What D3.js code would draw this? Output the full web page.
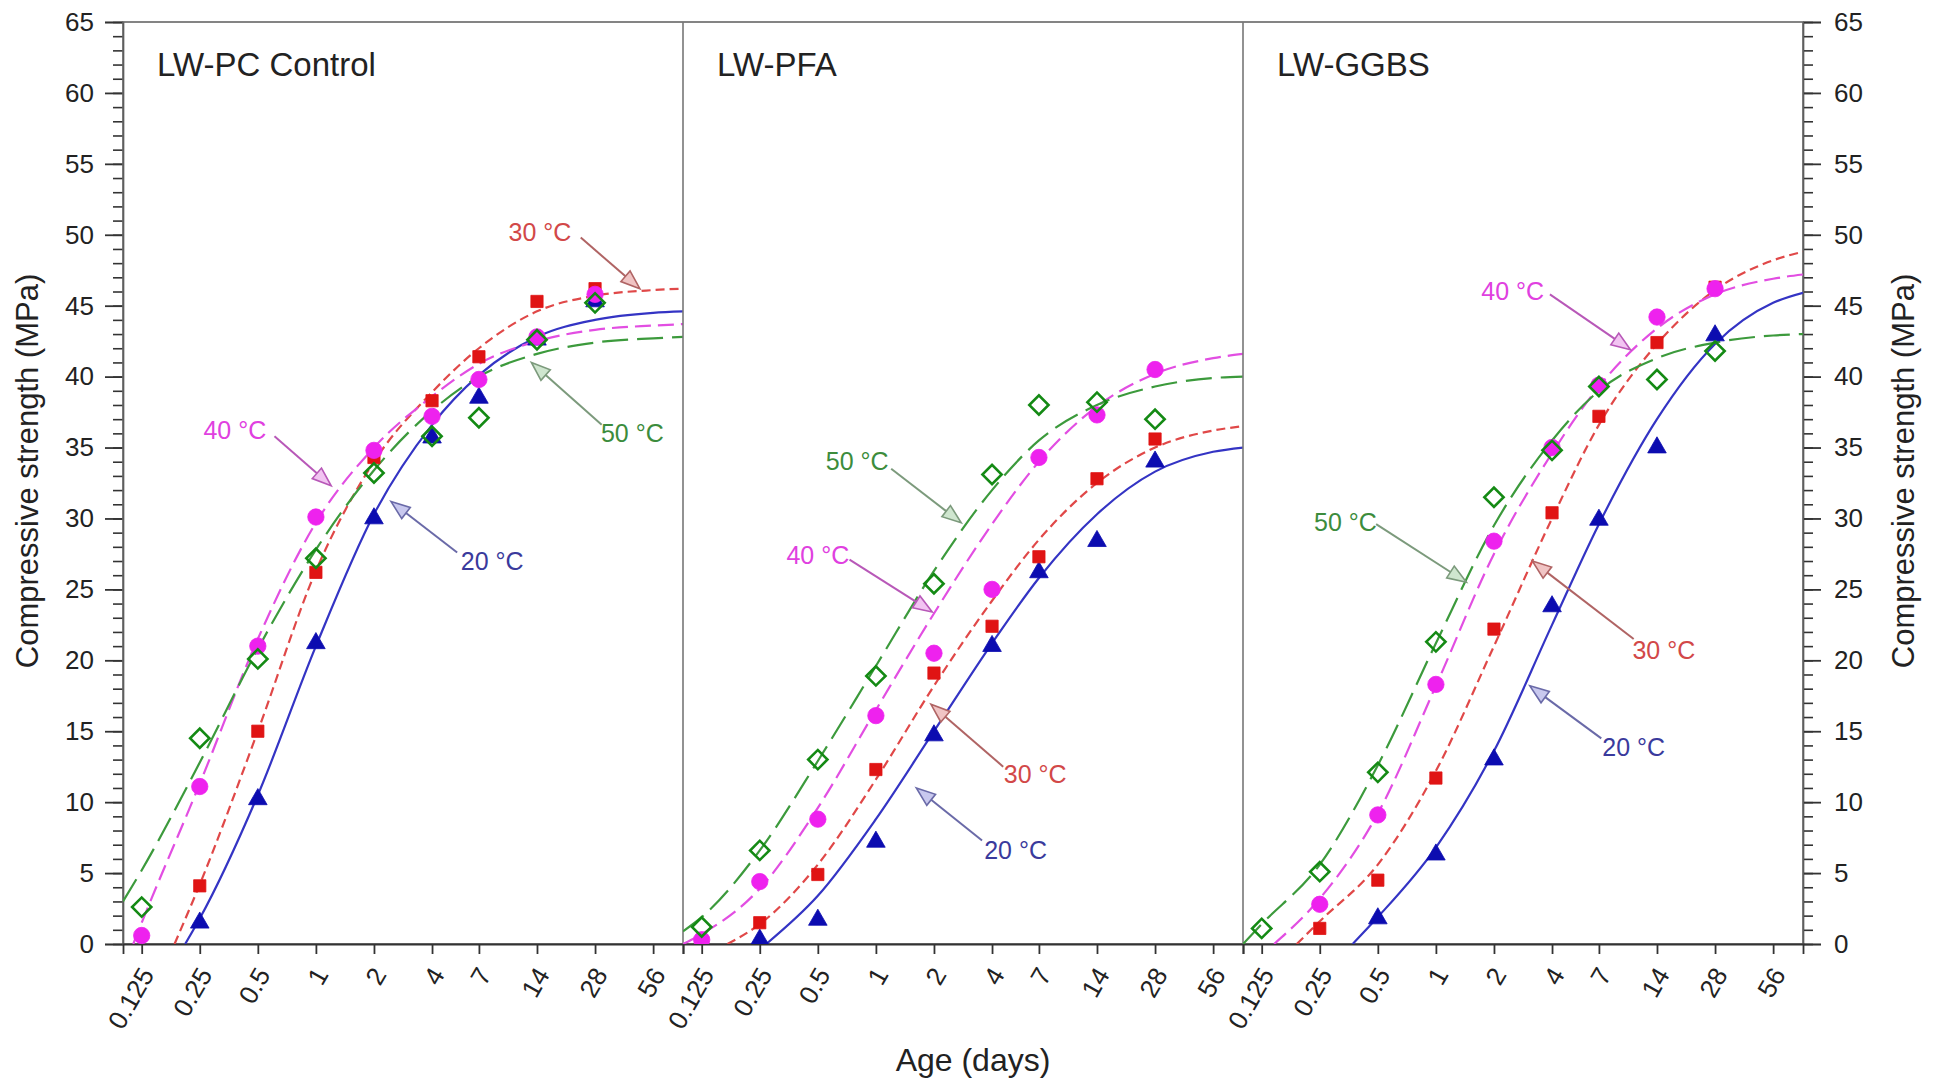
<!DOCTYPE html>
<html>
<head>
<meta charset="utf-8">
<script src="https://cdn.jsdelivr.net/npm/d3@7"></script>
<style>
  body { margin: 0; background: #fff; }
  svg { display: block; font-family: "Liberation Sans", Arial, sans-serif; }
</style>
</head>
<body>
<svg id="chart" width="1944" height="1086"></svg>
<script>
const panels = ['LW-PC Control', 'LW-PFA', 'LW-GGBS'];
const temps = [20, 30, 40, 50];
const ages = [0.125, 0.25, 0.5, 1, 2, 4, 7, 14, 28];
const tickAges = [0.125, 0.25, 0.5, 1, 2, 4, 7, 14, 28, 56];
const yTicks = d3.range(0, 66, 5);

// measured compressive strength (MPa) at each age, null = no point
const pc20 = [null, 1.5, 10.2, 21.2, 30.0, 35.7, 38.5, 42.6, 45.3];
const pc30 = [null, 4.1, 15.0, 26.2, 34.3, 38.3, 41.4, 45.3, 46.2];
const pc40 = [0.6, 11.1, 21.0, 30.1, 34.8, 37.2, 39.8, 42.8, 45.8];
const pc50 = [2.6, 14.5, 20.1, 27.2, 33.2, 35.8, 37.1, 42.6, 45.2];

const pfa20 = [null, 0.3, 1.7, 7.2, 14.7, 21.0, 26.2, 28.4, 34.0];
const pfa30 = [null, 1.5, 4.9, 12.3, 19.1, 22.4, 27.3, 32.8, 35.6];
const pfa40 = [0.3, 4.4, 8.8, 16.1, 20.5, 25.0, 34.3, 37.3, 40.5];
const pfa50 = [1.2, 6.6, 13.0, 18.9, 25.4, 33.1, 38.0, 38.2, 37.0];

const gg20 = [null, null, 1.8, 6.3, 13.0, 23.8, 29.9, 35.0, 42.9];
const gg30 = [null, 1.1, 4.5, 11.7, 22.2, 30.4, 37.2, 42.4, 46.3];
const gg40 = [null, 2.8, 9.1, 18.3, 28.4, 35.0, 39.4, 44.2, 46.2];
const gg50 = [1.1, 5.1, 12.1, 21.3, 31.5, 34.8, 39.3, 39.8, 41.8];

// fitted curves: [age, MPa]
const fitPc20 = [[0.21, 0], [0.25, 1.8], [0.5, 10.5], [1, 21], [2, 30.3], [4, 36.6], [7, 40.1], [14, 42.8], [28, 44], [56, 44.5], [80, 44.6]];
const fitPc30 = [[0.185, 0], [0.25, 4.2], [0.5, 15], [1, 26.3], [2, 34], [4, 38.9], [7, 42], [14, 44.6], [28, 45.7], [56, 46.1], [80, 46.2]];
const fitPc40 = [[0.113, 0], [0.125, 1.5], [0.25, 11.3], [0.5, 21.5], [1, 29.7], [2, 35], [4, 38.6], [7, 40.9], [14, 42.5], [28, 43.3], [56, 43.6], [80, 43.7]];
const fitPc50 = [[0.1, 3.0], [0.125, 5.2], [0.25, 12.8], [0.5, 20.8], [1, 27.8], [2, 33.4], [4, 37.6], [7, 40], [14, 41.6], [28, 42.4], [56, 42.7], [80, 42.8]];

const fitPfa20 = [[0.27, 0], [0.5, 3.4], [1, 8.8], [2, 15], [4, 21.2], [7, 25.8], [14, 30.3], [28, 33.3], [56, 34.7], [80, 35]];
const fitPfa30 = [[0.17, 0], [0.25, 1.4], [0.5, 5.6], [1, 11.6], [2, 18.2], [4, 24.2], [7, 28.5], [14, 32.5], [28, 35], [56, 36.2], [80, 36.5]];
const fitPfa40 = [[0.1, 0], [0.125, 0.7], [0.25, 3.9], [0.5, 9.6], [1, 16.5], [2, 23.3], [4, 29.6], [7, 34], [14, 37.9], [28, 40.2], [56, 41.3], [80, 41.6]];
const fitPfa50 = [[0.1, 0.9], [0.125, 1.9], [0.25, 6.6], [0.5, 12.9], [1, 19.6], [2, 26.3], [4, 32], [7, 35.5], [14, 38], [28, 39.3], [56, 39.9], [80, 40]];

const fitGg20 = [[0.37, 0], [0.5, 1.9], [1, 6.8], [2, 13.6], [4, 22.5], [7, 29.6], [14, 37], [28, 42.3], [56, 45.2], [80, 45.9]];
const fitGg30 = [[0.19, 0], [0.25, 1.6], [0.5, 5.6], [1, 12.2], [2, 21], [4, 30], [7, 36.6], [14, 42.3], [28, 46.1], [56, 48.2], [80, 48.8]];
const fitGg40 = [[0.145, 0], [0.25, 3.2], [0.5, 9.2], [1, 18.2], [2, 27.5], [4, 34.6], [7, 39.3], [14, 43.4], [28, 45.8], [56, 46.9], [80, 47.2]];
const fitGg50 = [[0.1, 0], [0.125, 1.4], [0.25, 5.6], [0.5, 12.6], [1, 21.2], [2, 29.5], [4, 35.5], [7, 39], [14, 41.3], [28, 42.4], [56, 42.9], [80, 43]];

// temperature callouts: [temp, text age, text MPa, arrow start age, start MPa, tip age, tip MPa]
const pcLabels = [
  [30, 14.5, 50.2, 23.6, 49.8, 47.8, 46.2],
  [40, 0.38, 36.2, 0.61, 35.8, 1.2, 32.3],
  [50, 43.7, 36.0, 30.3, 36.6, 13.1, 41.0],
  [20, 8.2, 27.0, 5.4, 27.6, 2.45, 31.2]
];
const pfaLabels = [
  [50, 0.80, 34.0, 1.2, 33.5, 2.77, 29.7],
  [40, 0.50, 27.4, 0.73, 27.1, 1.96, 23.4],
  [30, 6.7, 12.0, 4.57, 12.5, 1.93, 16.9],
  [20, 5.3, 6.6, 3.55, 7.3, 1.62, 11.0]
];
const ggLabels = [
  [40, 2.5, 46.0, 3.9, 45.8, 10.2, 41.9],
  [50, 0.34, 29.7, 0.49, 29.6, 1.44, 25.5],
  [30, 15.2, 20.7, 10.6, 21.5, 3.16, 27.0],
  [20, 10.6, 13.9, 7.2, 14.5, 3.07, 18.2]
];

const measured = [[pc20, pc30, pc40, pc50], [pfa20, pfa30, pfa40, pfa50], [gg20, gg30, gg40, gg50]];
const fits = [[fitPc20, fitPc30, fitPc40, fitPc50], [fitPfa20, fitPfa30, fitPfa40, fitPfa50], [fitGg20, fitGg30, fitGg40, fitGg50]];
const callouts = [pcLabels, pfaLabels, ggLabels];

const style = {
  20: { line: '#3434c4', dash: null, mark: '#0c0cb0', symbol: d3.symbolTriangle, size: 150, text: '#3a3a9c', arrow: '#6a6aa8', head: '#c8c8ee' },
  30: { line: '#e04848', dash: '9,5', mark: '#e01414', symbol: d3.symbolSquare, size: 150, text: '#d24848', arrow: '#b06464', head: '#f0c4c4' },
  40: { line: '#e24ee2', dash: '16,7', mark: '#ee22ee', symbol: d3.symbolCircle, size: 210, text: '#e040e0', arrow: '#b858b8', head: '#f2c4f2' },
  50: { line: '#3c9a3c', dash: '26,9', mark: '#148a14', symbol: d3.symbolSquare, size: 185, text: '#3c8c3c', arrow: '#7c9a7c', head: '#cfe6cf' }
};

const plotTop = 22, plotBottom = 944, plotLeft = 123, panelW = 560;
const plotRight = plotLeft + panelW * panels.length;

const svg = d3.select('#chart');

const y = d3.scaleLinear().domain([0, 65]).range([plotBottom, plotTop]);

// left and right y axes, minor then major ticks
function yAxes(axisFn, xPos, pad) {
  svg.append('g')
    .attr('transform', `translate(${xPos},0)`)
    .call(axisFn(y).tickValues(d3.range(0, 66, 1)).tickSize(10).tickFormat(''))
    .call(g => g.select('.domain').remove())
    .call(g => g.selectAll('line').attr('stroke', '#333').attr('stroke-width', 1.6));
  svg.append('g')
    .attr('transform', `translate(${xPos},0)`)
    .call(axisFn(y).tickValues(yTicks).tickSize(18).tickPadding(pad))
    .call(g => g.select('.domain').attr('stroke', '#444').attr('stroke-width', 1.6))
    .call(g => g.selectAll('line').attr('stroke', '#333').attr('stroke-width', 1.8))
    .call(g => g.selectAll('text').attr('font-size', 26).attr('fill', '#222').style('font-family', 'Liberation Sans, Arial, sans-serif'));
}
yAxes(d3.axisLeft, plotLeft, 11);
yAxes(d3.axisRight, plotRight, 13);

// frame
svg.append('rect')
  .attr('x', plotLeft).attr('y', plotTop)
  .attr('width', plotRight - plotLeft).attr('height', plotBottom - plotTop)
  .attr('fill', 'none').attr('stroke', '#666').attr('stroke-width', 1.6);

const defs = svg.append('defs');

panels.forEach((title, p) => {
  const x0 = plotLeft + p * panelW;
  const x = d3.scaleLog().base(2).domain([0.1, 80]).range([x0, x0 + panelW]);

  defs.append('clipPath').attr('id', `clip${p}`)
    .append('rect').attr('x', x0).attr('y', plotTop)
    .attr('width', panelW).attr('height', plotBottom - plotTop);

  if (p > 0) {
    svg.append('line')
      .attr('x1', x0).attr('x2', x0).attr('y1', plotTop).attr('y2', plotBottom)
      .attr('stroke', '#777').attr('stroke-width', 1.6);
  }

  // bottom axis
  svg.append('g')
    .attr('transform', `translate(0,${plotBottom})`)
    .call(d3.axisBottom(x).tickValues(tickAges).tickSize(10).tickFormat(d => String(d)))
    .call(g => g.select('.domain').attr('stroke', '#333').attr('stroke-width', 1.8))
    .call(g => g.selectAll('line').attr('stroke', '#333').attr('stroke-width', 1.8))
    .call(g => g.selectAll('text')
      .attr('x', 0).attr('y', 0).attr('dy', '0.35em')
      .attr('text-anchor', 'end')
      .attr('transform', 'translate(5,26) rotate(-60)')
      .attr('font-size', 26).attr('fill', '#222')
      .style('font-family', 'Liberation Sans, Arial, sans-serif'));

  const plot = svg.append('g').attr('clip-path', `url(#clip${p})`);

  const line = d3.line()
    .x(d => x(d[0]))
    .y(d => y(d[1]))
    .curve(d3.curveMonotoneX);

  temps.forEach((t, k) => {
    plot.append('path')
      .datum(fits[p][k])
      .attr('d', line)
      .attr('fill', 'none')
      .attr('stroke', style[t].line)
      .attr('stroke-width', 2.2)
      .attr('stroke-dasharray', style[t].dash);
  });

  temps.forEach((t, k) => {
    const s = style[t];
    const pts = ages.map((a, i) => [a, measured[p][k][i]]).filter(d => d[1] != null);
    plot.selectAll(null)
      .data(pts)
      .join('path')
      .attr('d', d3.symbol().type(s.symbol).size(s.size))
      .attr('transform', d => `translate(${x(d[0])},${y(d[1])})` + (t === 50 ? ' rotate(45)' : ''))
      .attr('fill', t === 50 ? 'none' : s.mark)
      .attr('stroke', s.mark)
      .attr('stroke-width', t === 50 ? 2.6 : 0.8);
  });

  // callouts
  callouts[p].forEach(([t, ta, tv, sa, sv, ea, ev]) => {
    const s = style[t];
    const x1 = x(sa), y1 = y(sv), x2 = x(ea), y2 = y(ev);
    const ang = Math.atan2(y2 - y1, x2 - x1);
    const len = 19, half = 7;
    const bx = x2 - len * Math.cos(ang), by = y2 - len * Math.sin(ang);
    svg.append('line')
      .attr('x1', x1).attr('y1', y1).attr('x2', bx).attr('y2', by)
      .attr('stroke', s.arrow).attr('stroke-width', 2);
    svg.append('path')
      .attr('d', `M${x2},${y2}L${bx - half * Math.sin(ang)},${by + half * Math.cos(ang)}L${bx + half * Math.sin(ang)},${by - half * Math.cos(ang)}Z`)
      .attr('fill', s.head).attr('stroke', s.arrow).attr('stroke-width', 1.6);
    svg.append('text')
      .attr('x', x(ta)).attr('y', y(tv)).attr('dy', '0.35em')
      .attr('text-anchor', 'middle')
      .attr('font-size', 25).attr('fill', s.text)
      .text(`${t} °C`);
  });

  svg.append('text')
    .attr('x', x0 + 34).attr('y', 76)
    .attr('font-size', 33).attr('fill', '#222')
    .text(title);
});

// axis titles
svg.append('text')
  .attr('transform', 'translate(27,471) rotate(-90)')
  .attr('text-anchor', 'middle').attr('dy', '0.35em')
  .attr('font-size', 31).attr('fill', '#222')
  .text('Compressive strength (MPa)');
svg.append('text')
  .attr('transform', 'translate(1903,471) rotate(-90)')
  .attr('text-anchor', 'middle').attr('dy', '0.35em')
  .attr('font-size', 31).attr('fill', '#222')
  .text('Compressive strength (MPa)');
svg.append('text')
  .attr('x', (plotLeft + plotRight) / 2 + 10).attr('y', 1071)
  .attr('text-anchor', 'middle')
  .attr('font-size', 32).attr('fill', '#222')
  .text('Age (days)');
</script>
</body>
</html>
